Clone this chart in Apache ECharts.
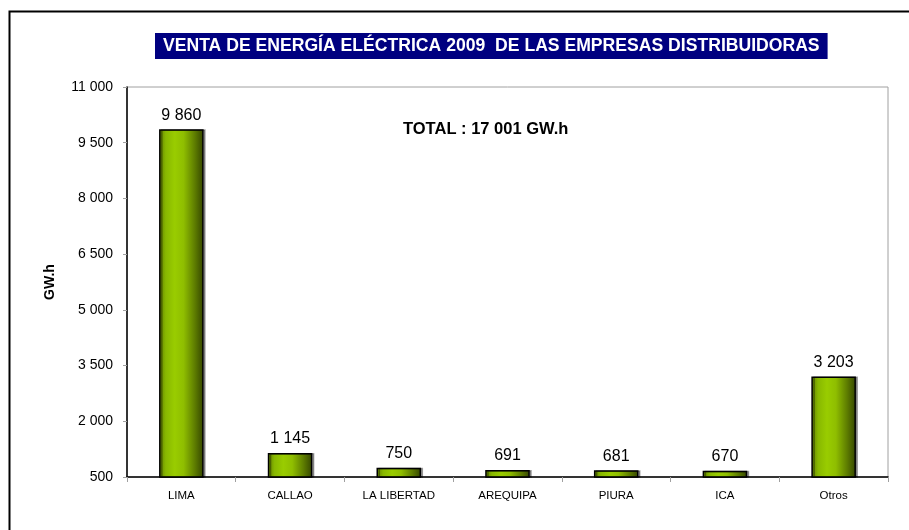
<!DOCTYPE html>
<html>
<head>
<meta charset="utf-8">
<script src="https://cdn.jsdelivr.net/npm/echarts@6/dist/echarts.min.js"></script>
<style>html,body{margin:0;padding:0;background:#fff}#c{width:909px;height:530px}</style>
</head>
<body>
<div id="c"></div>
<script>
const categories = ['LIMA', 'CALLAO', 'LA LIBERTAD', 'AREQUIPA', 'PIURA', 'ICA', 'Otros'];
const sales = [9860, 1145, 750, 691, 681, 670, 3203];
const yTicks = [500, 2000, 3500, 5000, 6500, 8000, 9500, 11000];
const titleText = 'VENTA DE ENERGÍA ELÉCTRICA 2009  DE LAS EMPRESAS DISTRIBUIDORAS';
const totalText = 'TOTAL : 17 001 GW.h';
const yName = 'GW.h';

function fmt(v) { return String(v).replace(/\B(?=(\d{3})+(?!\d))/g, ' '); }

const FONT = 'Arial, "Liberation Sans", sans-serif';
const chart = echarts.init(document.getElementById('c'), null, {renderer: 'canvas'});
chart.setOption({
  animation: false,
  backgroundColor: '#fff',
  title: {
    text: titleText,
    left: 155, top: 33,
    backgroundColor: '#000080',
    padding: [4, 8, 4, 8],
    textStyle: {color: '#fff', fontSize: 17.6, fontWeight: 'bold', fontFamily: FONT, lineHeight: 18}
  },
  graphic: [
    {type: 'rect', left: 7, top: 9, shape: {width: 930, height: 560}, style: {fill: 'none', stroke: '#000', lineWidth: 2}, z: 0, silent: true},
    {type: 'text', left: 403, top: 121, style: {text: totalText, fill: '#000', font: 'bold 16.5px ' + FONT}}
  ],
  grid: {left: 127, right: 21, top: 87, bottom: 53, show: true, borderColor: '#a0a0a0', borderWidth: 1, backgroundColor: 'transparent'},
  xAxis: {
    type: 'category',
    data: categories,
    axisLine: {lineStyle: {color: '#000', width: 1.5}},
    axisTick: {show: true, length: 5, lineStyle: {color: '#a0a0a0'}, alignWithLabel: false},
    axisLabel: {color: '#000', fontSize: 11.5, fontFamily: FONT, margin: 13}
  },
  yAxis: {
    type: 'value',
    min: yTicks[0], max: yTicks[yTicks.length - 1], interval: yTicks[1] - yTicks[0],
    name: yName, nameLocation: 'middle', nameGap: 70, nameRotate: 90,
    nameTextStyle: {color: '#000', fontWeight: 'bold', fontSize: 14, fontFamily: FONT},
    axisLine: {show: true, lineStyle: {color: '#000', width: 1.5}},
    axisTick: {show: true, length: 4, lineStyle: {color: '#a0a0a0'}},
    splitLine: {show: false},
    axisLabel: {color: '#000', fontSize: 14, fontFamily: FONT, margin: 14, formatter: v => fmt(v)}
  },
  series: [{
    type: 'bar',
    data: sales,
    barWidth: '41%',
    itemStyle: {
      borderColor: '#000', borderWidth: 1.5,
      shadowColor: 'rgba(0,0,0,0.35)', shadowOffsetX: 2, shadowOffsetY: 0, shadowBlur: 0,
      color: {type: 'linear', x: 0, y: 0, x2: 1, y2: 0, colorStops: [
        {offset: 0, color: '#5f7d00'},
        {offset: 0.15, color: '#88b800'},
        {offset: 0.35, color: '#99cc00'},
        {offset: 0.55, color: '#8fbe00'},
        {offset: 0.8, color: '#5e7d00'},
        {offset: 1, color: '#344500'}
      ]}
    },
    label: {show: true, position: 'top', distance: 6, color: '#000', fontSize: 16, fontFamily: FONT, formatter: p => fmt(p.value)}
  }]
});
</script>
</body>
</html>
